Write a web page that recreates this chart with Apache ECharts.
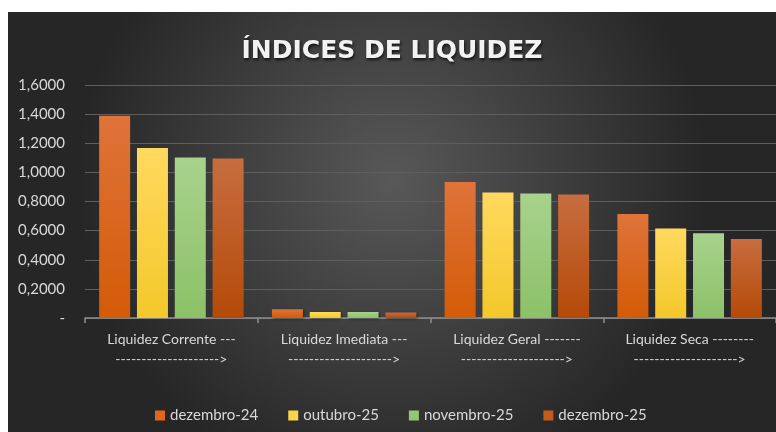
<!DOCTYPE html>
<html>
<head>
<meta charset="utf-8">
<script src="https://cdn.jsdelivr.net/npm/echarts@6/dist/echarts.min.js"></script>
<style>
  body { margin: 0; background: #fff; }
  #chart { position: absolute; left: 8px; top: 12px; width: 768px; height: 420px; }
</style>
</head>
<body>
<div id="chart"></div>
<script>
var categories = [
  'Liquidez Corrente ---\n-------------------->',
  'Liquidez Imediata ---\n-------------------->',
  'Liquidez Geral -------\n-------------------->',
  'Liquidez Seca --------\n-------------------->'
];
var seriesNames = ['dezembro-24', 'outubro-25', 'novembro-25', 'dezembro-25'];
var dez24 = [1.388, 0.060, 0.934, 0.714];
var out25 = [1.168, 0.041, 0.862, 0.614];
var nov25 = [1.103, 0.041, 0.855, 0.582];
var dez25 = [1.096, 0.037, 0.848, 0.543];
var yTicks = { min: 0, max: 1.6, interval: 0.2 };

// top / bottom colours of each bar gradient
var barColors = [
  ['#df733a', '#d45b07'],
  ['#ffd95e', '#f3c82a'],
  ['#a8d28d', '#8bc167'],
  ['#c76d40', '#b54a08']
];
var legendColors = ['#e0661c', '#fdd447', '#92c872', '#c45a1c'];

function grad(c) {
  return new echarts.graphic.LinearGradient(0, 0, 0, 1, [
    { offset: 0, color: c[0] },
    { offset: 1, color: c[1] }
  ]);
}

var chart = echarts.init(document.getElementById('chart'));
var allData = [dez24, out25, nov25, dez25];

var option = {
  backgroundColor: new echarts.graphic.RadialGradient(0.5, 0.4, 0.75, [
    { offset: 0, color: '#585858' },
    { offset: 1, color: '#262626' }
  ]),
  textStyle: { fontFamily: 'Lato' },
  title: {
    text: 'ÍNDICES DE LIQUIDEZ',
    left: 'center',
    top: 22,
    textStyle: {
      fontFamily: 'DejaVu Sans',
      fontWeight: 'bold',
      fontSize: 25,
      color: '#f2f2f2',
      textShadowColor: 'rgba(0,0,0,0.7)',
      textShadowBlur: 3,
      textShadowOffsetX: 1,
      textShadowOffsetY: 2
    }
  },
  legend: {
    top: 391,
    left: 142,
    icon: 'rect',
    itemWidth: 10,
    itemHeight: 10,
    itemGap: 30,
    textStyle: { color: '#d9d9d9', fontSize: 15, fontFamily: 'Lato' },
    data: seriesNames.map(function (n, i) {
      return { name: n, itemStyle: { color: legendColors[i] } };
    })
  },
  grid: { left: 77, top: 73, width: 700, height: 233 },
  xAxis: {
    type: 'category',
    data: categories,
    axisLine: { lineStyle: { color: '#8f8f8f', width: 1.5 } },
    axisTick: { show: true, length: 5, lineStyle: { color: '#8f8f8f', width: 1.5 } },
    axisLabel: {
      color: '#d9d9d9',
      fontSize: 14,
      lineHeight: 20,
      margin: 11,
      interval: 0
    }
  },
  yAxis: {
    type: 'value',
    min: yTicks.min,
    max: yTicks.max,
    interval: yTicks.interval,
    axisLine: { show: false },
    axisTick: { show: false },
    splitLine: { lineStyle: { color: '#5e5e5e', width: 1 } },
    axisLabel: {
      color: '#d9d9d9',
      fontSize: 15,
      margin: 20,
      formatter: function (v) {
        return v === 0 ? '-' : v.toFixed(4).replace('.', ',');
      }
    }
  },
  series: seriesNames.map(function (n, i) {
    return {
      name: n,
      type: 'bar',
      barWidth: 31,
      barGap: '22%',
      data: allData[i],
      itemStyle: {
        color: grad(barColors[i]),
        shadowColor: 'rgba(0,0,0,0.45)',
        shadowBlur: 3,
        shadowOffsetX: 1,
        shadowOffsetY: 1
      }
    };
  })
};

chart.setOption(option);
</script>
</body>
</html>
